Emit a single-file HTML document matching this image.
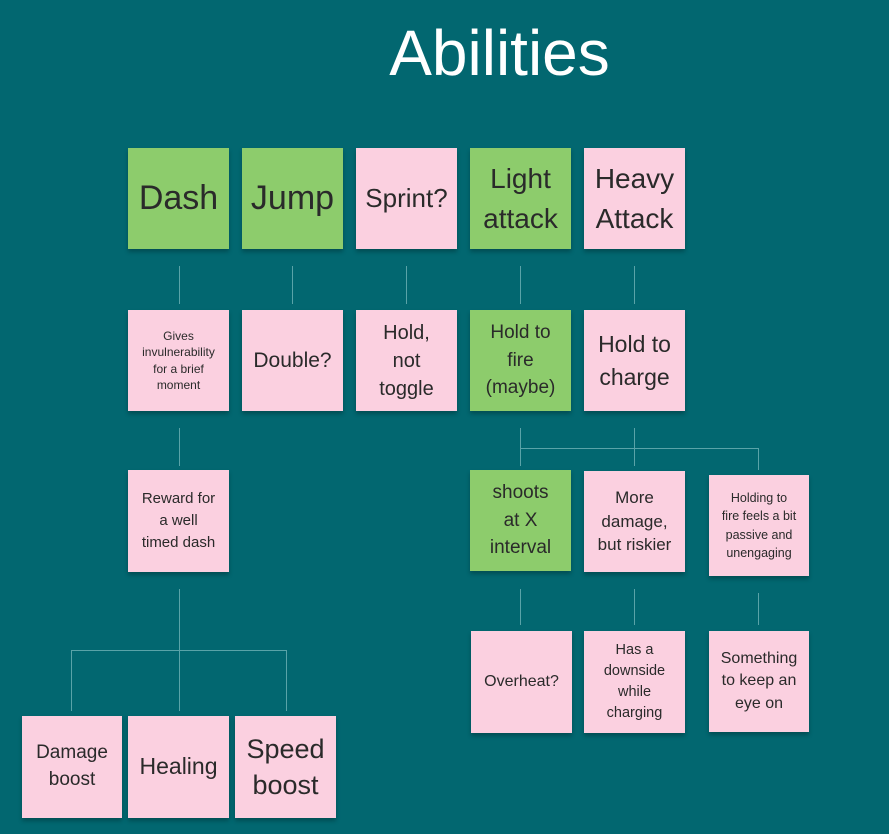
<!DOCTYPE html>
<html><head><style>
body{margin:0;width:889px;height:834px;background:#026770;position:relative;overflow:hidden;font-family:"Liberation Sans",sans-serif}
.t{position:absolute;left:0;width:999px;top:16px;text-align:center;color:#fff;font-size:64px}
.n{position:absolute;display:flex;align-items:center;justify-content:center;text-align:center;color:#2a2a2a;box-shadow:0 3px 4px rgba(0,0,0,.25);line-height:1.2}
.g{background:#8dcc6c}.p{background:#fbd0e0}
.l{position:absolute;background:#5aa3a8}
</style></head><body>
<div class="t">Abilities</div>
<div class="l" style="left:179px;top:266px;width:1px;height:38px"></div>
<div class="l" style="left:292px;top:266px;width:1px;height:38px"></div>
<div class="l" style="left:406px;top:266px;width:1px;height:38px"></div>
<div class="l" style="left:520px;top:266px;width:1px;height:38px"></div>
<div class="l" style="left:634px;top:266px;width:1px;height:38px"></div>
<div class="l" style="left:179px;top:428px;width:1px;height:38px"></div>
<div class="l" style="left:520px;top:428px;width:1px;height:38px"></div>
<div class="l" style="left:520px;top:448px;width:239px;height:1px"></div>
<div class="l" style="left:634px;top:428px;width:1px;height:38px"></div>
<div class="l" style="left:758px;top:448px;width:1px;height:22px"></div>
<div class="l" style="left:520px;top:589px;width:1px;height:36px"></div>
<div class="l" style="left:634px;top:589px;width:1px;height:36px"></div>
<div class="l" style="left:758px;top:593px;width:1px;height:32px"></div>
<div class="l" style="left:179px;top:589px;width:1px;height:122px"></div>
<div class="l" style="left:71px;top:650px;width:216px;height:1px"></div>
<div class="l" style="left:71px;top:650px;width:1px;height:61px"></div>
<div class="l" style="left:286px;top:650px;width:1px;height:61px"></div>
<div class="n g" style="left:128px;top:148px;width:101px;height:101px;font-size:34px">Dash</div>
<div class="n g" style="left:242px;top:148px;width:101px;height:101px;font-size:34px">Jump</div>
<div class="n p" style="left:356px;top:148px;width:101px;height:101px;font-size:26px">Sprint?</div>
<div class="n g" style="left:470px;top:148px;width:101px;height:101px;font-size:28px;line-height:1.4">Light<br>attack</div>
<div class="n p" style="left:584px;top:148px;width:101px;height:101px;font-size:28px;line-height:1.4">Heavy<br>Attack</div>
<div class="n p" style="left:128px;top:310px;width:101px;height:101px;font-size:12px;line-height:1.35">Gives<br>invulnerability<br>for a brief<br>moment</div>
<div class="n p" style="left:242px;top:310px;width:101px;height:101px;font-size:21px">Double?</div>
<div class="n p" style="left:356px;top:310px;width:101px;height:101px;font-size:20px;line-height:1.4">Hold,<br>not<br>toggle</div>
<div class="n g" style="left:470px;top:310px;width:101px;height:101px;font-size:19px;line-height:1.45">Hold to<br>fire<br>(maybe)</div>
<div class="n p" style="left:584px;top:310px;width:101px;height:101px;font-size:23px;line-height:1.4">Hold to<br>charge</div>
<div class="n p" style="left:128px;top:470px;width:101px;height:102px;font-size:15px;line-height:1.45">Reward for<br>a well<br>timed dash</div>
<div class="n g" style="left:470px;top:470px;width:101px;height:101px;font-size:19px;line-height:1.45">shoots<br>at X<br>interval</div>
<div class="n p" style="left:584px;top:471px;width:101px;height:101px;font-size:17px;line-height:1.4">More<br>damage,<br>but riskier</div>
<div class="n p" style="left:709px;top:475px;width:100px;height:101px;font-size:12.5px;line-height:1.45">Holding to<br>fire feels a bit<br>passive and<br>unengaging</div>
<div class="n p" style="left:471px;top:631px;width:101px;height:102px;font-size:16px">Overheat?</div>
<div class="n p" style="left:584px;top:631px;width:101px;height:102px;font-size:14.5px;line-height:1.45">Has a<br>downside<br>while<br>charging</div>
<div class="n p" style="left:709px;top:631px;width:100px;height:101px;font-size:16px;line-height:1.4">Something<br>to keep an<br>eye on</div>
<div class="n p" style="left:22px;top:716px;width:100px;height:102px;font-size:19px;line-height:1.4">Damage<br>boost</div>
<div class="n p" style="left:128px;top:716px;width:101px;height:102px;font-size:23px">Healing</div>
<div class="n p" style="left:235px;top:716px;width:101px;height:102px;font-size:27px;line-height:1.35">Speed<br>boost</div>
</body></html>
